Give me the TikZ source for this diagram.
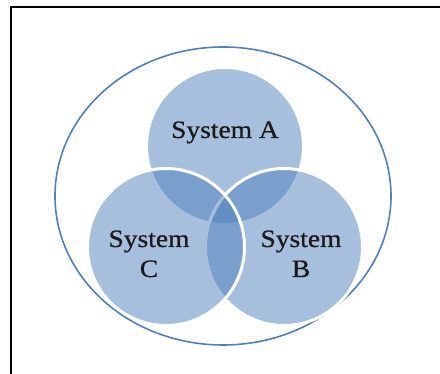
\documentclass[tikz,border=0pt]{standalone}
\usepackage{fontspec}
\setmainfont{Liberation Serif}[FakeStretch=1.1,FakeBold=0.6]
\usetikzlibrary{shapes.geometric}
\definecolor{ofblue}{HTML}{4F81BD}
\definecolor{txt}{HTML}{1A1A1A}
\begin{document}
\begin{tikzpicture}[x=1pt,y=1pt,
  setcircle/.style={circle, inner sep=0pt, minimum size=157pt, fill=ofblue, fill opacity=0.5, draw=white, draw opacity=1, line width=3pt},
  lbl/.style={font=\fontsize{25}{30}\selectfont, text=txt, anchor=base, inner sep=0pt}]
\useasboundingbox (0,0) rectangle (440,374);
\fill[white] (0,0) rectangle (440,374);
% frame
\draw[line width=2pt, black] (11,0) -- (11,366.5) -- (440,366.5);
% outer ellipse
\node[ellipse, draw=ofblue, line width=1.6pt, minimum width=336pt, minimum height=298pt, inner sep=0pt] (U) at (223,178) {};
% circles
\node[setcircle] (A) at (225,228) {};
\node[setcircle] (B) at (284,127) {};
\node[setcircle] (C) at (166,127) {};
% labels
\node[lbl] (la) at (225,236) {System A};
\node[lbl] (lc1) at (149,127) {System};
\node[lbl] (lc2) at (149,97) {C};
\node[lbl] (lb1) at (301,127) {System};
\node[lbl] (lb2) at (301,97) {B};
\end{tikzpicture}
\end{document}
